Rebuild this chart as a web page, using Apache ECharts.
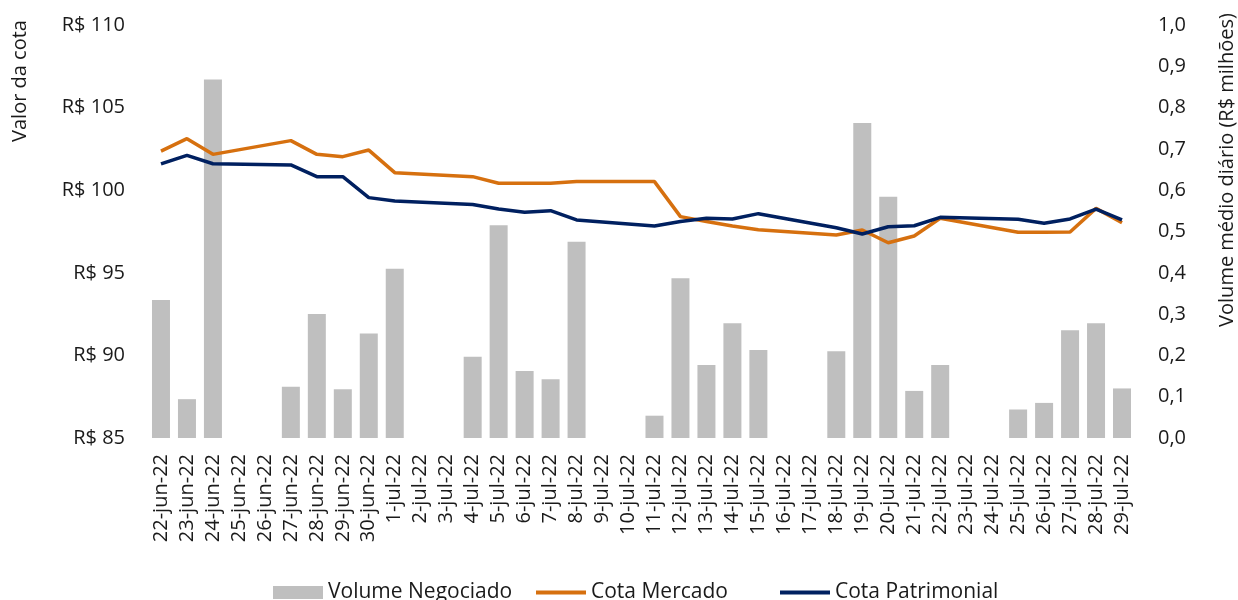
<!DOCTYPE html>
<html>
<head>
<meta charset="utf-8">
<script src="https://cdn.jsdelivr.net/npm/echarts@6/dist/echarts.min.js"></script>
<style>
  html, body { margin: 0; padding: 0; background: #fff; }
  #chart { width: 1238px; height: 600px; }
</style>
</head>
<body>
<div id="chart"></div>
<script>
  // dias do período
  const dias = [
    '22-jun-22', '23-jun-22', '24-jun-22', '25-jun-22', '26-jun-22', '27-jun-22', '28-jun-22',
    '29-jun-22', '30-jun-22', '1-jul-22', '2-jul-22', '3-jul-22', '4-jul-22', '5-jul-22',
    '6-jul-22', '7-jul-22', '8-jul-22', '9-jul-22', '10-jul-22', '11-jul-22', '12-jul-22',
    '13-jul-22', '14-jul-22', '15-jul-22', '16-jul-22', '17-jul-22', '18-jul-22', '19-jul-22',
    '20-jul-22', '21-jul-22', '22-jul-22', '23-jul-22', '24-jul-22', '25-jul-22', '26-jul-22',
    '27-jul-22', '28-jul-22', '29-jul-22'
  ];

  // volume negociado (R$ milhões), 0 nos dias sem pregão
  const volume = [
    0.334, 0.094, 0.868, 0, 0, 0.124, 0.300,
    0.118, 0.253, 0.410, 0, 0, 0.197, 0.515,
    0.162, 0.142, 0.475, 0, 0, 0.054, 0.387,
    0.177, 0.278, 0.213, 0, 0, 0.210, 0.763,
    0.584, 0.114, 0.177, 0, 0, 0.069, 0.085,
    0.261, 0.278, 0.120
  ];

  // cota de mercado (null = sem pregão)
  const cotaMercado = [
    102.37, 103.12, 102.17, null, null, 103.00, 102.17,
    102.03, 102.43, 101.06, null, null, 100.82, 100.42,
    100.42, 100.42, 100.52, null, null, 100.52, 98.40,
    98.10, 97.83, 97.61, null, null, 97.29, 97.59,
    96.82, 97.23, 98.30, null, null, 97.45, 97.45,
    97.47, 98.90, 98.03
  ];

  // cota patrimonial
  const cotaPatrimonial = [
    101.59, 102.11, 101.60, null, null, 101.53, 100.82,
    100.82, 99.55, 99.35, null, null, 99.14, 98.86,
    98.66, 98.76, 98.20, null, null, 97.83, 98.10,
    98.30, 98.26, 98.58, null, null, 97.73, 97.35,
    97.79, 97.85, 98.36, null, null, 98.24, 98.00,
    98.26, 98.86, 98.20
  ];

  const fonte = "'Open Sans', 'Noto Sans', sans-serif";
  const corTexto = '#1a1a1a';
  const iconeLinha = 'path://M0,0H52V4H0Z';

  // uma legenda por item, para posicionar cada uma como no original
  function legenda(nome, icone, left) {
    return {
      left: left,
      top: 577,
      itemWidth: 50,
      itemHeight: 13,
      textStyle: { fontFamily: fonte, fontSize: 21, color: corTexto },
      data: [{ name: nome, icon: icone }]
    };
  }

  let myChart = echarts.init(document.getElementById('chart'), null, { renderer: 'canvas' });

  myChart.setOption({
    animation: false,
    textStyle: { fontFamily: fonte, color: corTexto },
    grid: { left: 148, right: 103, top: 25, bottom: 162, containLabel: false },
    legend: [
      legenda('Volume Negociado', 'rect', 268),
      legenda('Cota Mercado', iconeLinha, 531),
      legenda('Cota Patrimonial', iconeLinha, 775)
    ],
    graphic: [
      {
        type: 'text',
        x: 20, y: 81,
        rotation: Math.PI / 2,
        style: {
          text: 'Valor da cota',
          font: '20px ' + fonte,
          fill: corTexto,
          align: 'center',
          verticalAlign: 'middle'
        }
      },
      {
        type: 'text',
        x: 1227, y: 170,
        rotation: Math.PI / 2,
        style: {
          text: 'Volume médio diário (R$ milhões)',
          font: '20px ' + fonte,
          fill: corTexto,
          align: 'center',
          verticalAlign: 'middle'
        }
      }
    ],
    xAxis: {
      type: 'category',
      data: dias,
      axisLine: { show: false },
      axisTick: { show: false },
      axisLabel: {
        interval: 0,
        rotate: 90,
        margin: 16,
        fontSize: 20,
        color: corTexto,
        fontFamily: fonte
      }
    },
    yAxis: [
      {
        type: 'value',
        min: 85,
        max: 110,
        interval: 5,
        splitLine: { show: false },
        axisLine: { show: false },
        axisTick: { show: false },
        axisLabel: {
          margin: 23,
          fontSize: 20,
          color: corTexto,
          fontFamily: fonte,
          formatter: v => 'R$ ' + v
        }
      },
      {
        type: 'value',
        min: 0,
        max: 1,
        interval: 0.1,
        splitLine: { show: false },
        axisLine: { show: false },
        axisTick: { show: false },
        axisLabel: {
          margin: 23,
          fontSize: 20,
          color: corTexto,
          fontFamily: fonte,
          formatter: v => v.toFixed(1).replace('.', ',')
        }
      }
    ],
    series: [
      {
        name: 'Volume Negociado',
        type: 'bar',
        yAxisIndex: 1,
        data: volume,
        barWidth: 18,
        itemStyle: { color: '#BFBFBF' }
      },
      {
        name: 'Cota Mercado',
        type: 'line',
        data: cotaMercado,
        connectNulls: true,
        symbol: 'none',
        lineStyle: { color: '#D6700F', width: 3.5 },
        itemStyle: { color: '#D6700F' }
      },
      {
        name: 'Cota Patrimonial',
        type: 'line',
        data: cotaPatrimonial,
        connectNulls: true,
        symbol: 'none',
        lineStyle: { color: '#002060', width: 3.5 },
        itemStyle: { color: '#002060' }
      }
    ]
  });
</script>
</body>
</html>
